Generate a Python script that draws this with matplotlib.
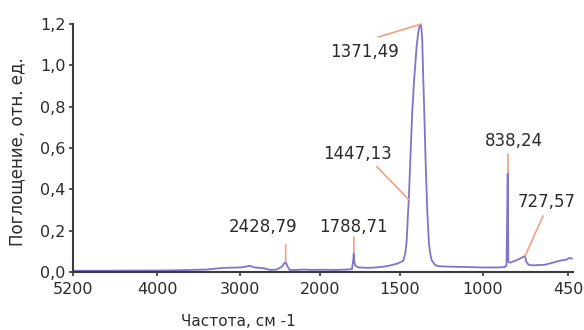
import numpy as np
import matplotlib
matplotlib.use("Agg")
import matplotlib.pyplot as plt

# IR spectrum (wavenumber, cm-1 -> absorbance)
wavenumber = [5200, 4800, 4400, 4000, 3800, 3600, 3400, 3300, 3200, 3100,
              3000, 2950, 2880, 2820, 2700, 2620, 2540, 2480, 2440, 2428,
              2410, 2380, 2300, 2200, 2100, 2000, 1900, 1830, 1800, 1792,
              1789, 1786, 1780, 1760, 1700, 1650, 1600, 1560, 1520, 1490,
              1480, 1468, 1460, 1452, 1447, 1440, 1436, 1426, 1414, 1400,
              1390, 1380, 1372, 1366, 1360, 1354, 1346, 1336, 1326, 1318,
              1310, 1290, 1270, 1200, 1100, 1000, 900, 860, 848, 840,
              836, 825, 790, 760, 735, 728, 720, 705, 680, 600,
              550, 500, 460, 440, 425]
absorbance = [0.006, 0.006, 0.007, 0.007, 0.008, 0.010, 0.012, 0.016, 0.020, 0.021,
              0.022, 0.024, 0.030, 0.022, 0.018, 0.010, 0.012, 0.025, 0.045, 0.048,
              0.030, 0.010, 0.010, 0.012, 0.010, 0.011, 0.010, 0.012, 0.014, 0.060,
              0.092, 0.050, 0.032, 0.022, 0.020, 0.022, 0.026, 0.032, 0.040, 0.050,
              0.055, 0.090, 0.150, 0.280, 0.350, 0.500, 0.580, 0.780, 0.940, 1.090,
              1.160, 1.200, 1.190, 1.120, 0.940, 0.780, 0.540, 0.300, 0.140, 0.090,
              0.058, 0.035, 0.028, 0.026, 0.024, 0.022, 0.022, 0.024, 0.030, 0.480,
              0.050, 0.045, 0.055, 0.065, 0.075, 0.078, 0.050, 0.035, 0.032, 0.035,
              0.045, 0.055, 0.060, 0.068, 0.065]

peak_wn = [2428.79, 1788.71, 1447.13, 1371.49, 838.24, 727.57]
peak_abs = [0.048, 0.092, 0.350, 1.200, 0.480, 0.078]
peak_labels = ["2428,79", "1788,71", "1447,13", "1371,49", "838,24", "727,57"]

xticks = [5200, 4000, 3000, 2000, 1500, 1000, 450]
yticks = [0.0, 0.2, 0.4, 0.6, 0.8, 1.0, 1.2]
ytick_labels = ["0,0", "0,2", "0,4", "0,6", "0,8", "1,0", "1,2"]

# the instrument axis is stretched below 2000 cm-1: piecewise linear scale
bp_wn = np.array([418, 450, 1000, 1500, 2000, 3000, 4000, 5200], dtype=float)
bp_pos = -np.array([573, 568, 483, 400, 320, 240, 157, 72.7])


def fwd(x):
    return np.interp(x, bp_wn, bp_pos)


def inv(y):
    return np.interp(y, bp_pos, bp_wn)


text_col = "#2b2b2b"
line_col = "#8272cc"
lead_col = "#f4a07c"

fig = plt.figure(figsize=(5.84, 3.30), dpi=100)
ax = fig.add_axes([72.7 / 584, 1 - 272 / 330, (573 - 72.7) / 584, (272 - 24) / 330])
ax.set_xscale("function", functions=(fwd, inv))

ax.plot(wavenumber, absorbance, color=line_col, lw=1.3, solid_joinstyle="miter")

# leader lines (offsets in pixels from the peak) and labels
lead_start = [(0, 17), (0, 16), (-32, 33), (-43, -13), (0, 19), (18, 40)]
text_pos = [(-23, 35), (0, 26), (-51, 46), (-57, -28), (6, 32), (22, 54)]
for wn, a, lab, ls, tp in zip(peak_wn, peak_abs, peak_labels, lead_start, text_pos):
    ax.annotate("", xy=(wn, a), xytext=ls, textcoords="offset pixels",
                arrowprops=dict(arrowstyle="-", color=lead_col, lw=1.2,
                                shrinkA=0, shrinkB=0))
    ax.annotate(lab, xy=(wn, a), xytext=tp, textcoords="offset pixels",
                ha="center", va="center", fontsize=12, color=text_col)

ax.set_xlim(5200, 418)
ax.set_ylim(0, 1.2)
ax.set_xticks(xticks)
ax.set_xticklabels([str(t) for t in xticks])
ax.set_yticks(yticks)
ax.set_yticklabels(ytick_labels)
ax.minorticks_off()

for side in ["top", "right"]:
    ax.spines[side].set_visible(False)
for side in ["left", "bottom"]:
    ax.spines[side].set_color("#3a3a3a")
    ax.spines[side].set_linewidth(1.5)
ax.tick_params(axis="both", direction="out", length=3, width=1.2,
               colors="#3a3a3a", labelcolor=text_col, labelsize=11.5)
ax.tick_params(axis="y", pad=2)
ax.tick_params(axis="x", pad=4)

fig.text(238 / 584, 1 - 322 / 330, "Частота, см -1", ha="center", va="center",
         fontsize=11, color=text_col)
fig.text(17 / 584, 1 - 152 / 330, "Поглощение, отн. ед.", ha="center", va="center",
         rotation=90, fontsize=12, color=text_col)

fig.savefig("out.png", dpi=100)
